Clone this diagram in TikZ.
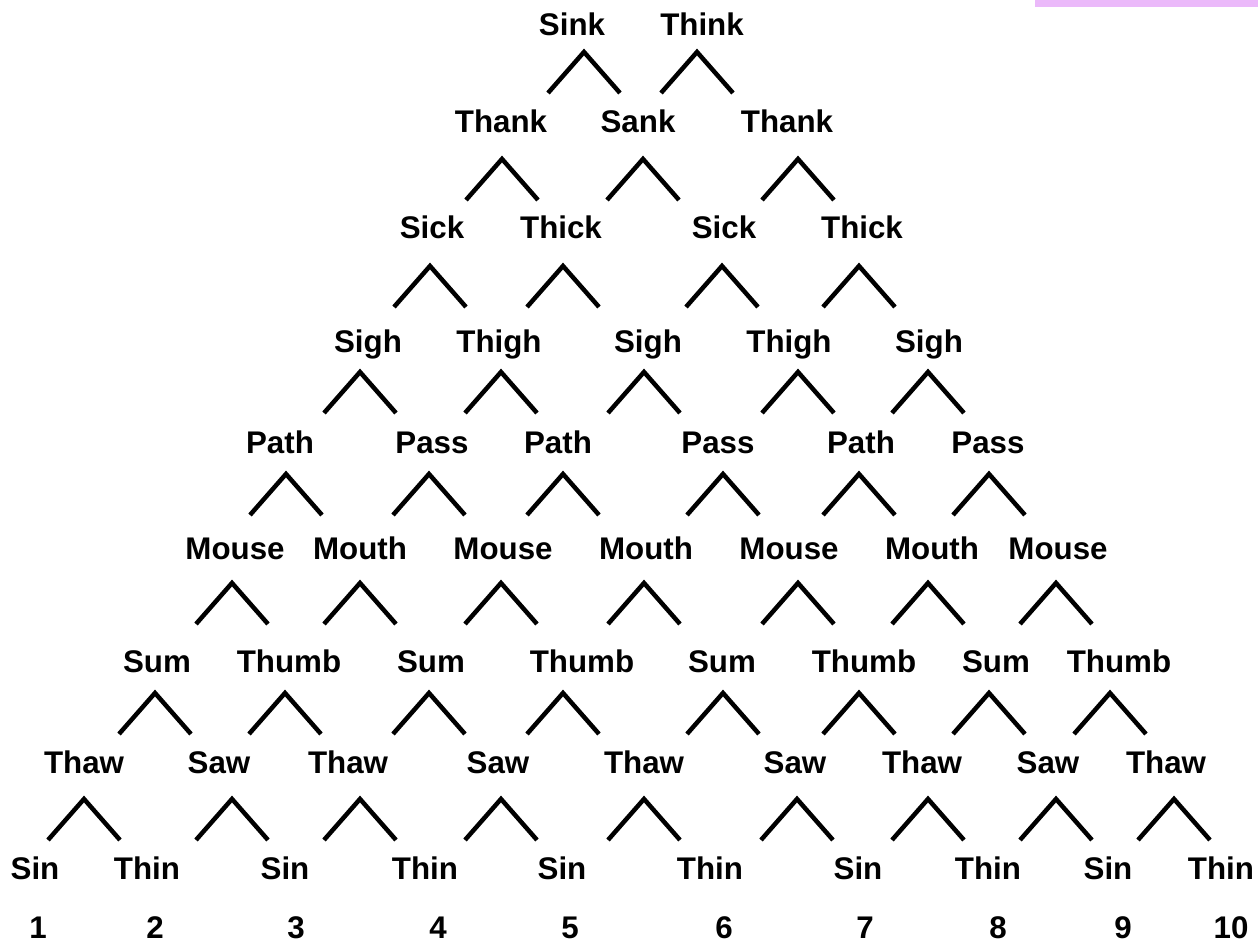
\documentclass[tikz,border=0pt]{standalone}
\usepackage{fontspec}
\setmainfont{Liberation Sans}
\definecolor{pinkbar}{RGB}{235,185,250}
\tikzset{
  word/.style={font=\bfseries\fontsize{31.3}{34}\selectfont, inner sep=0pt, anchor=base},
  caret/.style={line width=4.5pt, line join=miter, line cap=butt},
}
\begin{document}
\begin{tikzpicture}[x=1pt,y=-1pt]
\useasboundingbox (0,0) rectangle (1258,944);
\fill[pinkbar] (1035,0) rectangle (1258,7);
% words
\foreach \x/\t [count=\i] in {572/Sink,702/Think}
  \node[word] (r0w\i) at (\x,36) {\t};
\foreach \x/\t [count=\i] in {501/Thank,638/Sank,787/Thank}
  \node[word] (r1w\i) at (\x,133) {\t};
\foreach \x/\t [count=\i] in {432/Sick,561/Thick,724/Sick,862/Thick}
  \node[word] (r2w\i) at (\x,238) {\t};
\foreach \x/\t [count=\i] in {368/Sigh,499/Thigh,648/Sigh,789/Thigh,929/Sigh}
  \node[word] (r3w\i) at (\x,352) {\t};
\foreach \x/\t [count=\i] in {280/Path,432/Pass,558/Path,718/Pass,861/Path,988/Pass}
  \node[word] (r4w\i) at (\x,453) {\t};
\foreach \x/\t [count=\i] in {235/Mouse,360/Mouth,503/Mouse,646/Mouth,789/Mouse,932/Mouth,1058/Mouse}
  \node[word] (r5w\i) at (\x,559) {\t};
\foreach \x/\t [count=\i] in {157/Sum,289/Thumb,431/Sum,582/Thumb,722/Sum,864/Thumb,996/Sum,1119/Thumb}
  \node[word] (r6w\i) at (\x,672) {\t};
\foreach \x/\t [count=\i] in {84/Thaw,219/Saw,348/Thaw,498/Saw,644/Thaw,795/Saw,922/Thaw,1048/Saw,1166/Thaw}
  \node[word] (r7w\i) at (\x,773) {\t};
\foreach \x/\t [count=\i] in {35/Sin,147/Thin,285/Sin,425/Thin,562/Sin,710/Thin,858/Sin,988/Thin,1108/Sin,1221/Thin}
  \node[word] (r8w\i) at (\x,879) {\t};
\foreach \x/\t [count=\i] in {38/1,155/2,296/3,438/4,570/5,724/6,865/7,998/8,1123/9,1231/10}
  \node[word] (n\i) at (\x,938) {\t};
% carets
\foreach \top/\list in {
    49/{584,697},
    156/{502,643,798},
    263/{430,563,722,859},
    369/{360,501,644,798,928},
    471/{286,429,563,723,859,989},
    580/{232,360,501,644,798,928,1056},
    690/{155,285,429,563,723,859,989,1110},
    796/{84,232,360,501,644,797,928,1056,1174}}
  \foreach \x in \list
    \draw[caret] (\x-36,\top+44) -- (\x,\top+3) -- (\x+36,\top+44);
\end{tikzpicture}
\end{document}
